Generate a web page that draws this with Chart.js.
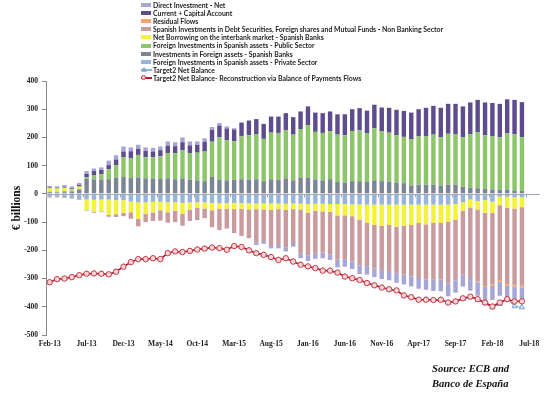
<!DOCTYPE html>
<html>
<head>
<meta charset="utf-8">
<script src="https://cdn.jsdelivr.net/npm/chart.js@4.4.0/dist/chart.umd.min.js"></script>
<style>
  html, body { margin: 0; padding: 0; background: #fff; }
  #wrap { position: relative; width: 547px; height: 396px; }
  #leyenda { position: absolute; left: 141px; top: 1px; font: bold 6.9px Lato, "Liberation Sans", sans-serif; color: #222; }
  #leyenda div { height: 8.1px; line-height: 8.1px; white-space: nowrap; display: flex; align-items: center; }
  .caja { display: inline-block; width: 10px; height: 4px; margin-right: 2px; }
  .linea { position: relative; display: inline-block; width: 11px; height: 7px; margin-right: 1px; }
  .linea::before { content: ''; position: absolute; left: 0; right: 0; top: 3px; height: 1.4px; background: var(--c); }
  .circ { position: absolute; left: 0; top: 1px; width: 3px; height: 3px; border: 1px solid #c33a48; border-radius: 50%; background: #fbd3d3; }
  .tri { position: absolute; left: 0; top: 0.5px; width: 6px; height: 5px; background: #7ea3cf; clip-path: polygon(50% 0, 100% 100%, 0 100%); }
  #fuente { position: absolute; left: 432px; top: 362px; font: bold italic 10.6px "Liberation Serif", "DejaVu Serif", serif; line-height: 14.5px; color: #111; }
</style>
</head>
<body>
<div id="wrap">
  <canvas id="myChart" width="547" height="396"></canvas>
  <div id="leyenda"></div>
  <div id="fuente">Source: ECB and<br>Banco de España</div>
</div>
<script>
// meses (categorias del eje x)
const meses = ['Feb-13','Mar-13','Apr-13','May-13','Jun-13','Jul-13','Aug-13','Sep-13','Oct-13','Nov-13','Dec-13',
  'Jan-14','Feb-14','Mar-14','Apr-14','May-14','Jun-14','Jul-14','Aug-14','Sep-14','Oct-14','Nov-14','Dec-14',
  'Jan-15','Feb-15','Mar-15','Apr-15','May-15','Jun-15','Jul-15','Aug-15','Sep-15','Oct-15','Nov-15','Dec-15',
  'Jan-16','Feb-16','Mar-16','Apr-16','May-16','Jun-16','Jul-16','Aug-16','Sep-16','Oct-16','Nov-16','Dec-16',
  'Jan-17','Feb-17','Mar-17','Apr-17','May-17','Jun-17','Jul-17','Aug-17','Sep-17','Oct-17','Nov-17','Dec-17',
  'Jan-18','Feb-18','Mar-18','Apr-18','May-18','Jun-18','Jul-18'];

// etiquetas que se ven en el eje (una cada 5 meses)
const etiquetasEje = ['Feb-13','Jul-13','Dec-13','May-14','Oct-14','Mar-15','Aug-15','Jan-16','Jun-16','Nov-16','Apr-17','Sep-17','Feb-18','Jul-18'];
const ticksY = [-500, 400, 100];

// series apiladas (miles de millones de euros)
const privado = [-10,-9,-11,-14,-18,-20,-21,-20,-20,-22,-22,-27,-30,-30,-28,-28,-30,-30,-32,-30,-30,-30,-32,-33,-33,-32,-33,-33,-34,-33,-34,-34,-35,-34,-35,-36,-35,-35,-36,-36,-36,-37,-37,-38,-38,-38,-38,-38,-38,-38,-38,-38,-38,-38,-38,-36,-30,-20,-25,-22,-28,-10,-10,-12,-12];
const bancos = [6,5,6,8,14,54,52,50,52,57,60,56,58,55,54,53,55,52,55,50,48,45,60,50,48,50,52,50,52,45,52,50,55,48,58,58,50,48,52,42,40,45,45,42,48,45,44,40,38,30,33,32,33,30,33,32,25,22,20,18,16,14,15,12,10];
const publico = [2,3,4,5,4,5,15,20,35,45,70,71,80,75,76,80,90,92,100,95,98,105,125,150,142,136,152,158,160,150,165,166,170,162,172,185,170,168,170,168,168,178,180,172,185,176,173,168,164,164,171,173,177,171,180,180,176,190,199,190,188,186,200,199,191];
const interbancario = [12,11,12,3,8,-37,-42,-42,-55,-50,-45,-38,-58,-40,-38,-30,-35,-30,-38,-26,-20,-22,-26,-20,-20,-22,-20,-22,-20,-22,-22,-20,-22,-20,-20,-30,-25,-27,-28,-40,-40,-42,-55,-65,-72,-75,-72,-78,-75,-72,-65,-70,-65,-65,-60,-55,-30,-28,-30,-45,-40,-30,-40,-40,-35];
const deuda = [-3,-4,-3,-3,-3,-2,-4,-3,-6,-10,-12,-23,-27,-30,-30,-37,-37,-40,-43,-40,-43,-34,-60,-75,-70,-85,-96,-102,-117,-112,-125,-127,-133,-120,-155,-152,-150,-146,-150,-157,-155,-160,-162,-153,-155,-157,-163,-165,-172,-182,-195,-195,-201,-200,-220,-215,-225,-250,-255,-260,-252,-265,-270,-270,-278];
const residual = [0,0,0,0,0,0,0,0,0,0,0,0,0,0,0,0,0,0,0,0,0,0,0,0,0,0,0,0,0,0,0,0,0,0,0,0,0,0,0,0,0,0,0,0,0,0,0,0,0,0,0,0,0,0,0,0,0,0,-3,-3,-6,-6,-6,-6,-6];
const cuentaCorriente = [3,3,4,4,6,12,14,15,15,20,20,24,22,22,20,22,26,25,28,27,28,35,42,42,42,42,48,52,53,53,57,58,61,62,62,67,68,70,70,72,74,77,79,81,83,85,88,90,92,94,96,100,102,104,106,107,109,112,114,116,118,119,120,122,124];
const inversionDirecta = [5,5,5,6,7,10,9,9,16,15,18,14,14,13,13,13,15,14,17,14,12,12,10,9,7,5,2,0,-10,-10,-12,-12,-14,-13,-18,-20,-20,-20,-20,-27,-27,-27,-30,-30,-30,-32,-33,-34,-36,-36,-38,-37,-40,-42,-45,-44,-43,-45,-48,-49,-50,-50,-50,-50,-50];

// lineas Target2
const target2 = [-313,-302,-300,-295,-288,-283,-282,-283,-285,-276,-258,-242,-231,-231,-228,-231,-210,-204,-206,-202,-197,-194,-190,-192,-198,-185,-188,-200,-210,-216,-224,-234,-228,-240,-251,-257,-263,-272,-272,-279,-293,-299,-305,-316,-324,-332,-338,-342,-360,-366,-375,-375,-376,-375,-385,-381,-372,-366,-375,-388,-402,-390,-372,-398,-402];
const reconstruccion = [-313,-302,-300,-295,-288,-283,-282,-283,-285,-276,-258,-242,-231,-231,-228,-231,-210,-204,-206,-202,-197,-194,-190,-192,-198,-185,-188,-200,-210,-216,-224,-234,-228,-240,-251,-257,-263,-272,-272,-279,-293,-299,-305,-316,-324,-332,-338,-342,-360,-366,-375,-375,-376,-375,-385,-381,-370,-364,-373,-385,-399,-385,-373,-381,-381];

const fuenteEje = { family: '"Liberation Serif", serif', size: 7.5, weight: 'bold' };

const barra = (label, data, color) => ({
  type: 'bar', label, data, backgroundColor: color, order: 2,
  stack: 'flujos', barPercentage: 0.6, categoryPercentage: 1
});

// linea del cero con las marcas cada 5 meses
const lineaCero = {
  id: 'lineaCero',
  afterDatasetsDraw(chart) {
    const { ctx, chartArea, scales } = chart;
    const y0 = Math.round(scales.y.getPixelForValue(0)) + 0.5;
    const paso = (chartArea.right - chartArea.left) / chart.data.labels.length;
    ctx.save();
    ctx.strokeStyle = '#a0a9b7';
    ctx.lineWidth = 1;
    ctx.beginPath();
    ctx.moveTo(chartArea.left, y0);
    ctx.lineTo(chartArea.right + 7, y0);
    for (let k = 0; k <= chart.data.labels.length; k += 5) {
      const x = Math.round(chartArea.left + k * paso) + 0.5;
      ctx.moveTo(x, y0);
      ctx.lineTo(x, y0 + 3);
    }
    ctx.stroke();
    ctx.restore();
  }
};

function crearLeyenda(chart) {
  const caja = document.getElementById('leyenda');
  const orden = [7, 6, 5, 4, 3, 2, 1, 0, 8, 9];
  orden.forEach(i => {
    const ds = chart.data.datasets[i];
    const fila = document.createElement('div');
    const marca = document.createElement('span');
    if (ds.type === 'line') {
      marca.className = 'linea';
      marca.style.setProperty('--c', ds.borderColor);
      const punto = document.createElement('i');
      punto.className = ds.pointStyle === 'triangle' ? 'tri' : 'circ';
      marca.appendChild(punto);
    } else {
      marca.className = 'caja';
      marca.style.background = ds.backgroundColor;
    }
    fila.appendChild(marca);
    fila.appendChild(document.createTextNode(ds.label));
    caja.appendChild(fila);
  });
}

const ctx = document.getElementById('myChart');
const grafico = new Chart(ctx, {
  data: {
    labels: meses,
    datasets: [
      barra('Foreign Investments in Spanish assets - Private Sector', privado, '#98b4d9'),
      barra('Investments in Foreign assets - Spanish Banks', bancos, '#7b8594'),
      barra('Foreign Investments in Spanish assets - Public Sector', publico, '#8dc56b'),
      barra('Net Borrowing on the interbank market - Spanish Banks', interbancario, '#f3f33c'),
      barra('Spanish Investments in Debt Securities, Foreign shares and Mutual Funds - Non Banking Sector', deuda, '#c99a9e'),
      barra('Residual Flows', residual, '#f4a46c'),
      barra('Current + Capital Account', cuentaCorriente, '#5e4c8c'),
      barra('Direct Investment - Net', inversionDirecta, '#a6a6d6'),
      {
        // cada linea en su propio stack para que no se sumen
        type: 'line', label: 'Target2 Net Balance', data: target2, order: 1, stack: 'real',
        borderColor: '#8db2dd', borderWidth: 1.3, pointStyle: 'triangle',
        pointRadius: 3, pointBackgroundColor: '#dde9f6', pointBorderColor: '#7ea3cf', pointBorderWidth: 1
      },
      {
        type: 'line', label: 'Target2 Net Balance- Reconstruction via Balance of Payments Flows', data: reconstruccion, order: 0, stack: 'reconstruida',
        borderColor: '#b31b2c', borderWidth: 1.6, pointStyle: 'circle',
        pointRadius: 2.7, pointBackgroundColor: '#fbd3d3', pointBorderColor: '#c33a48', pointBorderWidth: 1
      }
    ]
  },
  options: {
    responsive: false,
    animation: false,
    devicePixelRatio: 1,
    layout: { padding: { top: 81, right: 14, bottom: 45, left: 0 } },
    plugins: { legend: { display: false }, tooltip: { enabled: false } },
    scales: {
      x: {
        stacked: true,
        offset: true,
        grid: { display: false, drawTicks: false },
        border: { display: false },
        ticks: {
          autoSkip: false, maxRotation: 0, padding: 5, color: '#222', font: fuenteEje,
          callback: (v, i) => (i % 5 === 0 ? etiquetasEje[i / 5] : '')
        },
        afterFit: s => { s.height = 16; }
      },
      y: {
        stacked: true,
        min: ticksY[0], max: ticksY[1],
        ticks: { stepSize: ticksY[2], padding: 4, color: '#222', font: fuenteEje },
        grid: { color: 'transparent', tickColor: '#8a8a8a', tickLength: 4 },
        border: { display: true, color: '#8a8a8a', width: 1 },
        title: {
          display: true, text: '€ billions', color: '#111',
          font: { family: '"Liberation Serif", serif', size: 11.5, weight: 'bold' },
          padding: { top: 10, bottom: 0 }
        },
        afterFit: s => { s.width = 46; }
      }
    }
  },
  plugins: [lineaCero]
});

crearLeyenda(grafico);
</script>
</body>
</html>
